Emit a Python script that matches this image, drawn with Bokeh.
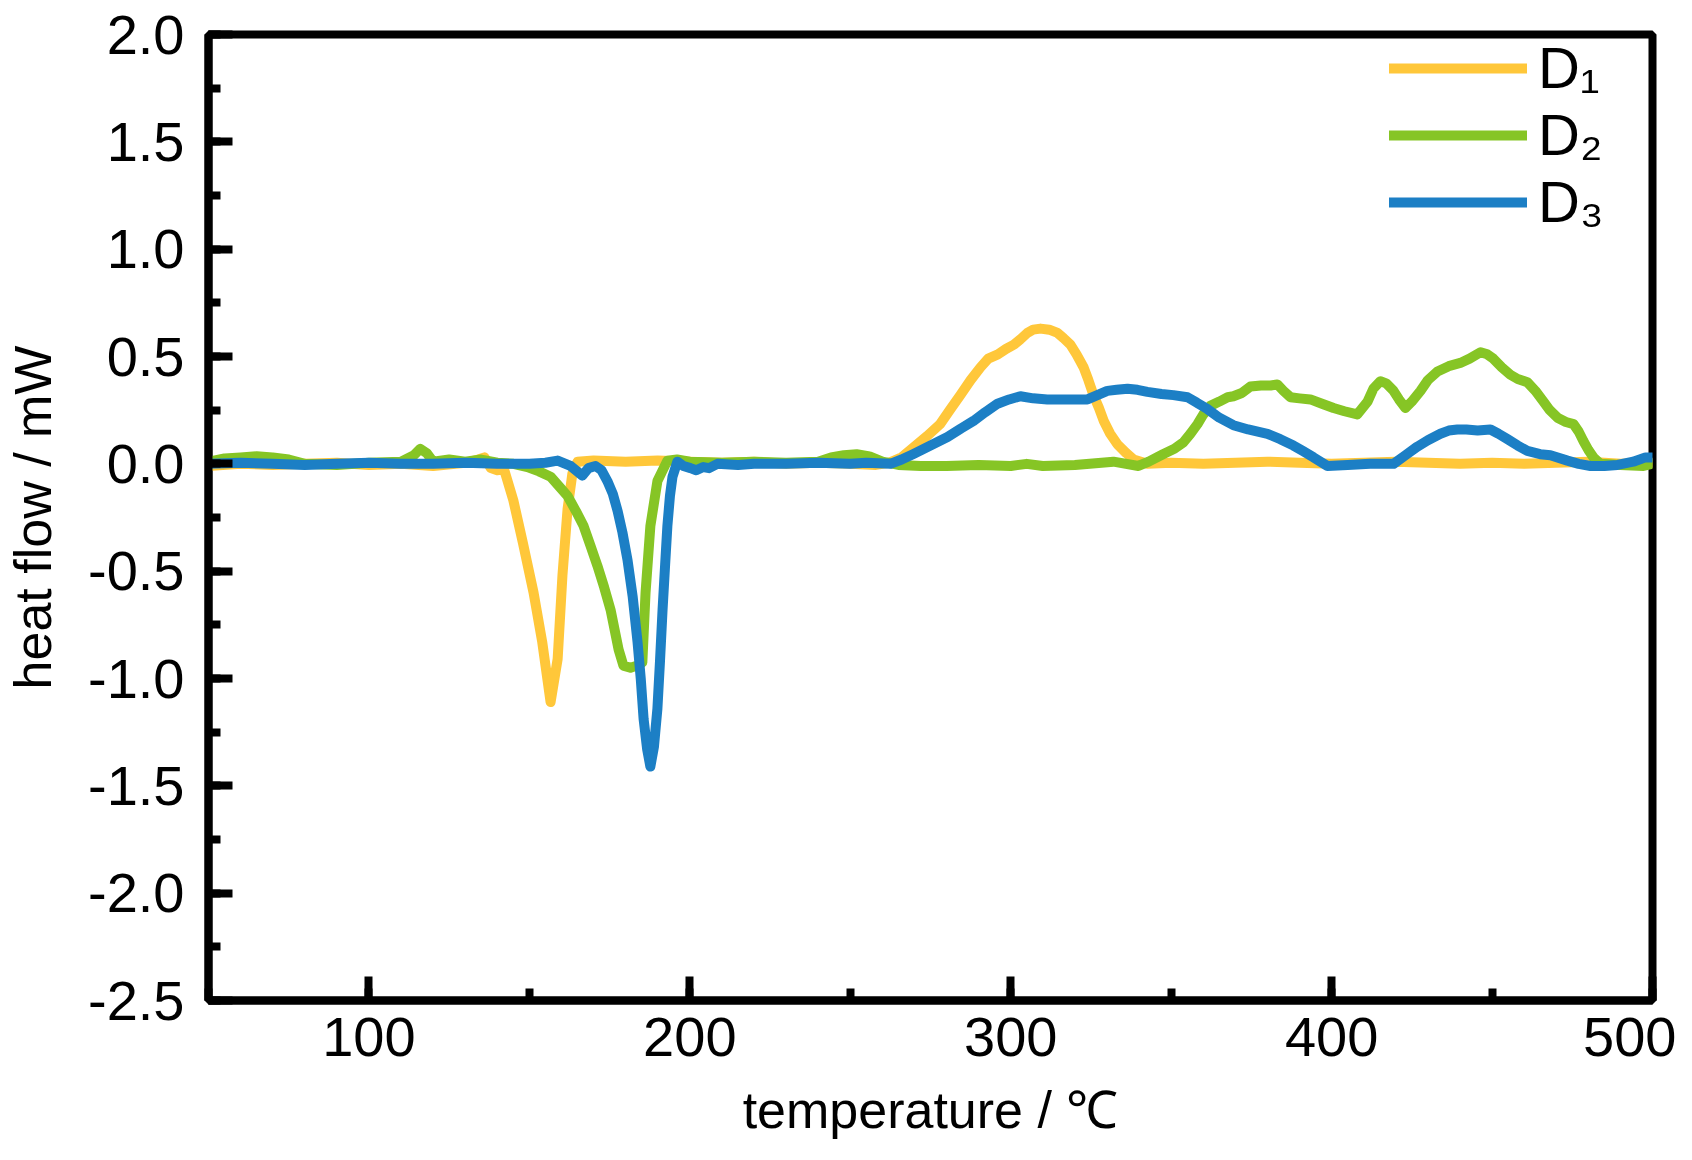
from bokeh.plotting import figure
from bokeh.models import (Range1d, SingleIntervalTicker, PrintfTickFormatter,
                          Legend, LegendItem)
from bokeh.embed import file_html
from bokeh.resources import INLINE

# ---------------- data ----------------
d1_x = [50, 60, 70, 80, 90, 100, 110, 120, 130, 134, 136, 138, 140, 142, 145, 148,
        151.3, 154, 156.6, 158.8, 160.3, 161.9, 163.4, 165, 170, 180, 190, 200, 210,
        220, 230, 240, 250, 258, 262, 266, 270, 274, 278, 281, 284.3, 287.5, 290.6,
        293, 296, 298.5, 301, 303, 305.2, 307, 309.3, 312, 314.6, 316.5, 318.6, 320.5,
        322.7, 324.2, 325.8, 327.5, 329, 331, 333.3, 336, 338.3, 342.6, 350, 360, 370,
        380, 390, 400, 410, 420, 430, 440, 450, 460, 470, 480, 490, 500]
d1_y = [-0.01, 0.0, -0.005, 0.0, 0.005, -0.005, 0.0, -0.01, 0.005, 0.02, 0.03, -0.02,
        -0.03, -0.02, -0.17, -0.37, -0.60, -0.83, -1.11, -0.91, -0.52, -0.21, -0.045,
        0.01, 0.015, 0.01, 0.015, 0.01, 0.005, 0.01, 0.0, 0.005, 0.0, -0.005, 0.005,
        0.03, 0.08, 0.13, 0.185, 0.25, 0.32, 0.39, 0.45, 0.49, 0.51, 0.535, 0.555, 0.58,
        0.61, 0.625, 0.63, 0.625, 0.61, 0.585, 0.555, 0.51, 0.45, 0.39, 0.32, 0.26, 0.20,
        0.14, 0.09, 0.05, 0.02, 0.0, 0.005, 0.0, 0.005, 0.01, 0.005, 0.0, 0.005, 0.01,
        0.005, 0.0, 0.005, 0.0, 0.005, 0.01, 0.0, 0.005]

d2_x = [50, 55, 60, 65, 70, 75, 80, 90, 100, 110, 114, 116, 118, 120, 125, 130, 135,
        140, 145, 149.4, 153, 156.6, 159, 161.9, 164.5, 166.9, 169, 171.2, 173.3, 175.3,
        177.8, 179.3, 181.5, 183.5, 185.2, 186.2, 187.7, 189.9, 193, 196, 200, 210, 220,
        230, 240, 244, 248, 252, 256, 260, 265, 272, 280, 290, 300, 305, 310, 320, 332,
        339.8, 343, 347.6, 351, 353.8, 356, 358.2, 360, 362.2, 365, 367.6, 369.4, 372,
        374.7, 378, 381, 383.1, 385, 387.2, 390, 393.4, 397, 400.6, 404, 408, 411.2, 413,
        415.2, 417, 419.3, 421, 423, 425, 427.7, 430, 433, 436.5, 440.1, 443, 446.4,
        448.5, 450.4, 453, 455.7, 458, 461, 463.5, 466, 468, 470.4, 473, 475.4, 477,
        478.5, 480, 481.6, 483.8, 490, 497.2, 500]
d2_y = [0.01, 0.025, 0.03, 0.035, 0.03, 0.02, 0.0, -0.005, 0.005, 0.01, 0.04, 0.07,
        0.05, 0.01, 0.02, 0.01, 0.02, 0.005, 0.0, -0.015, -0.035, -0.06, -0.10, -0.15,
        -0.22, -0.29, -0.38, -0.475, -0.575, -0.68, -0.865, -0.94, -0.95, -0.94, -0.925,
        -0.60, -0.29, -0.08, 0.015, 0.02, 0.01, 0.005, 0.01, 0.005, 0.01, 0.03, 0.04,
        0.045, 0.035, 0.01, -0.005, -0.01, -0.01, -0.005, -0.01, 0.0, -0.01, -0.005,
        0.01, -0.01, 0.01, 0.046, 0.07, 0.10, 0.14, 0.185, 0.23, 0.27, 0.29, 0.31, 0.315,
        0.33, 0.36, 0.365, 0.365, 0.37, 0.34, 0.31, 0.305, 0.30, 0.28, 0.26, 0.245, 0.23,
        0.29, 0.35, 0.385, 0.375, 0.34, 0.30, 0.26, 0.29, 0.34, 0.39, 0.43, 0.455, 0.47,
        0.49, 0.52, 0.51, 0.49, 0.45, 0.415, 0.395, 0.38, 0.34, 0.29, 0.25, 0.215, 0.195,
        0.185, 0.15, 0.105, 0.065, 0.03, 0.0, -0.005, -0.01, 0.0]

d3_x = [50, 60, 70, 80, 90, 100, 110, 120, 130, 140, 150, 155, 158.8, 162.8, 166.5,
        168.4, 170.6, 172.5, 174.3, 176, 177.5, 179, 180.6, 182.2, 183.7, 184.7, 185.6,
        186.7, 187.7, 188.8, 189.9, 190.7, 191.5, 192.3, 193, 193.8, 194.6, 196.1, 198,
        200.2, 202, 204.2, 206, 208.6, 215, 220, 230, 240, 250, 255, 262.5, 266, 269.7,
        275, 280.3, 284.5, 288.4, 292, 295.9, 299.5, 303, 307, 311.4, 317, 323.9, 327,
        330.1, 333, 336.4, 339.5, 342.6, 347, 350.7, 355.1, 358, 361.3, 365, 369.4, 374,
        380, 384, 388.1, 391, 394.4, 398.7, 405, 412, 419.3, 423, 426.7, 430, 433.9,
        436.5, 439.2, 442, 445.5, 449.5, 452, 454.8, 458, 461, 465, 468.2, 473.5, 477,
        480.7, 485, 489.1, 494, 497.8, 500]
d3_y = [0.0, 0.005, 0.0, -0.005, 0.0, 0.005, 0.0, 0.0, 0.005, 0.0, 0.0, 0.005, 0.015,
        -0.01, -0.055, -0.02, -0.01, -0.03, -0.08, -0.14, -0.22, -0.32, -0.45, -0.62,
        -0.83, -1.0, -1.19, -1.33, -1.41, -1.32, -1.14, -0.92, -0.68, -0.47, -0.29,
        -0.15, -0.06, 0.01, -0.01, -0.02, -0.03, -0.015, -0.02, 0.0, -0.005, 0.0, 0.0,
        0.005, 0.0, 0.005, 0.0, 0.02, 0.046, 0.085, 0.125, 0.165, 0.20, 0.24, 0.28, 0.30,
        0.315, 0.305, 0.30, 0.30, 0.30, 0.32, 0.34, 0.345, 0.35, 0.345, 0.335, 0.325,
        0.32, 0.31, 0.285, 0.255, 0.215, 0.18, 0.16, 0.14, 0.115, 0.085, 0.06, 0.03,
        -0.01, -0.005, 0.0, 0.0, 0.04, 0.08, 0.11, 0.14, 0.155, 0.16, 0.16, 0.155, 0.16,
        0.14, 0.115, 0.085, 0.06, 0.045, 0.04, 0.015, 0.0, -0.01, -0.01, -0.005, 0.01,
        0.03, 0.03]

series_labels = ["D\u2081", "D\u2082", "D\u2083"]
series_colors = ["#FFC73A", "#86C525", "#1C7FC5"]
x_title = "temperature / \u2103"
y_title = "heat flow / mW"

FONT = "Liberation Sans"

# ---------------- figure ----------------
p = figure(width=1676, height=1144, output_backend="svg", toolbar_location=None,
           x_range=Range1d(50, 500), y_range=Range1d(-2.5, 2.0),
           min_border_left=208, min_border_right=24, min_border_top=34,
           min_border_bottom=144)
p.background_fill_color = "white"
p.border_fill_color = "white"
p.grid.visible = False
p.outline_line_color = "black"
p.outline_line_width = 8

p.xaxis.ticker = SingleIntervalTicker(interval=100, num_minor_ticks=2)
p.yaxis.ticker = SingleIntervalTicker(interval=0.5, num_minor_ticks=2)
p.yaxis.formatter = PrintfTickFormatter(format="%.1f")

for ax in (p.xaxis[0], p.yaxis[0]):
    ax.axis_line_width = 8
    ax.axis_line_color = "black"
    ax.major_tick_in = 24
    ax.major_tick_out = 0
    ax.minor_tick_in = 12
    ax.minor_tick_out = 0
    ax.major_tick_line_width = 8
    ax.minor_tick_line_width = 8
    ax.major_label_text_font = FONT
    ax.major_label_text_font_size = "56px"
    ax.major_label_text_color = "black"
    ax.axis_label_text_font = FONT
    ax.axis_label_text_font_size = "52px"
    ax.axis_label_text_font_style = "normal"
    ax.axis_label_text_color = "black"

p.xaxis.axis_label = x_title
p.yaxis.axis_label = y_title
p.xaxis.major_label_standoff = 17
p.xaxis.axis_label_standoff = 22
p.yaxis.major_label_standoff = 24
p.yaxis.axis_label_standoff = 23

renderers = []
for xs, ys, c in zip((d1_x, d2_x, d3_x), (d1_y, d2_y, d3_y), series_colors):
    r = p.line(xs, ys, line_color=c, line_width=10, line_cap="round", line_join="round")
    renderers.append(r)

legend = Legend(items=[LegendItem(label=l, renderers=[r])
                       for l, r in zip(series_labels, renderers)],
                location=(1181, 765))
legend.border_line_color = None
legend.background_fill_alpha = 0
legend.glyph_width = 138
legend.glyph_height = 60
legend.label_height = 60
legend.label_standoff = 11
legend.spacing = 0
legend.padding = 0
legend.margin = 0
legend.label_text_font = FONT
legend.label_text_font_size = "58px"
legend.label_text_color = "black"
p.add_layout(legend)

open("out.html", "w").write(file_html(p, INLINE))
